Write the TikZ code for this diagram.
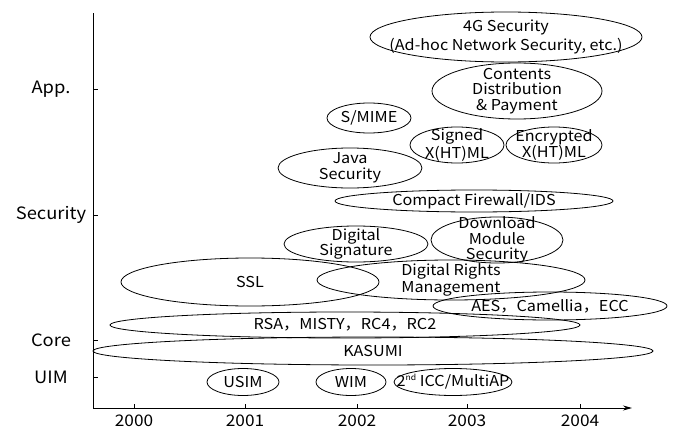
\documentclass[tikz,border=0pt]{standalone}
\usepackage{fontspec}
\setmainfont{Noto Sans CJK JP}[FakeStretch=1.08]
\usetikzlibrary{shapes.geometric,arrows.meta}
\newcommand{\supsm}[1]{\raisebox{0.75ex}{\fontsize{8}{8}\selectfont #1}}
\begin{document}
\begin{tikzpicture}[x=1pt,y=-1pt,
  ov/.style={draw, ellipse, line width=0.8pt, inner sep=0pt},
  txt/.style={align=center, font=\fontsize{15}{15.5}\selectfont, inner sep=0pt},
  axlbl/.style={font=\fontsize{17}{18}\selectfont, inner sep=0pt},
  yrlbl/.style={font=\fontsize{16}{18}\selectfont, inner sep=0pt},
  axisline/.style={line width=0.8pt}]
\useasboundingbox (0,0) rectangle (680,431);
% axes
\coordinate (o) at (93,408);
\coordinate (ytop) at (93,13);
\coordinate (xend) at (632,408);
\draw[axisline] (ytop) -- (o);
\draw[axisline,-{Stealth[length=9pt,width=5pt]}] (o) -- (xend);
\foreach \x/\yr in {134/2000,245/2001,357/2002,467/2003,580/2004}{
  \coordinate (t\yr) at (\x,408);
  \draw[axisline] (t\yr) -- ++(0,-4);
  \node[yrlbl] (l\yr) at (\x,421) {\yr};
}
\foreach \y/\nm/\lab in {89/app/App.,215/sec/Security,340/core/Core,377/uim/UIM}{
  \coordinate (t\nm) at (93,\y);
  \draw[axisline] (t\nm) -- ++(5,0);
  \node[axlbl] (l\nm) at (51,\y) {\lab};
}
% ellipses
\node[ov, minimum width=272pt, minimum height=50pt] (g4) at (506,37) {};
\node[txt] (g4t) at (g4) {4G Security\\[1.5pt](Ad-hoc Network Security, etc.)};
\node[ov, minimum width=170pt, minimum height=56pt] (cdp) at (517,91) {};
\node[txt] (cdpt) at (cdp) {Contents\\Distribution\\\& Payment};
\node[ov, minimum width=84pt, minimum height=30pt] (smime) at (369,118) {};
\node[txt] (smimet) at (smime) {S/MIME};
\node[ov, minimum width=94pt, minimum height=36pt] (signed) at (457,145) {};
\node[txt] (signedt) at (signed) {Signed\\X(HT)ML};
\node[ov, minimum width=96pt, minimum height=36pt] (encr) at (554,145) {};
\node[txt] (encrt) at (encr) {Encrypted\\X(HT)ML};
\node[ov, minimum width=144pt, minimum height=40pt] (java) at (350,168) {};
\node[txt] (javat) at (java) {Java\\Security};
\node[ov, minimum width=278pt, minimum height=22pt] (fw) at (474,201) {};
\node[txt] (fwt) at (fw) {Compact Firewall/IDS};
\node[ov, minimum width=144pt, minimum height=36pt] (dsig) at (356,244) {};
\node[txt] (dsigt) at (dsig) {Digital\\Signature};
\node[ov, minimum width=132pt, minimum height=46pt] (dms) at (497,240) {};
\node[txt] (dmst) at (dms) {Download\\Module\\Security};
\node[ov, minimum width=258pt, minimum height=48pt] (ssl) at (250,282) {};
\node[txt] (sslt) at (ssl) {SSL};
\node[ov, minimum width=268pt, minimum height=40pt] (drm) at (451,280) {};
\node[txt] (drmt) at (drm) {Digital Rights\\[1pt]Management};
\node[ov, minimum width=234pt, minimum height=28pt] (aes) at (550,306) {};
\node[txt] (aest) at (aes) {AES，Camellia，ECC};
\node[ov, minimum width=470pt, minimum height=26pt] (rsa) at (345,325) {};
\node[txt] (rsat) at (rsa) {RSA，MISTY，RC4，RC2};
\node[ov, minimum width=560pt, minimum height=28pt] (kasumi) at (373,351) {};
\node[txt] (kasumit) at (kasumi) {KASUMI};
\node[ov, minimum width=72pt, minimum height=27pt] (usim) at (243,382) {};
\node[txt] (usimt) at (usim) {USIM};
\node[ov, minimum width=70pt, minimum height=27pt] (wim) at (351,382) {};
\node[txt] (wimt) at (wim) {WIM};
\node[ov, minimum width=118pt, minimum height=27pt] (icc) at (453,382) {};
\node[txt] (icct) at (icc) {2\supsm{nd} ICC/MultiAP};
\end{tikzpicture}
\end{document}
